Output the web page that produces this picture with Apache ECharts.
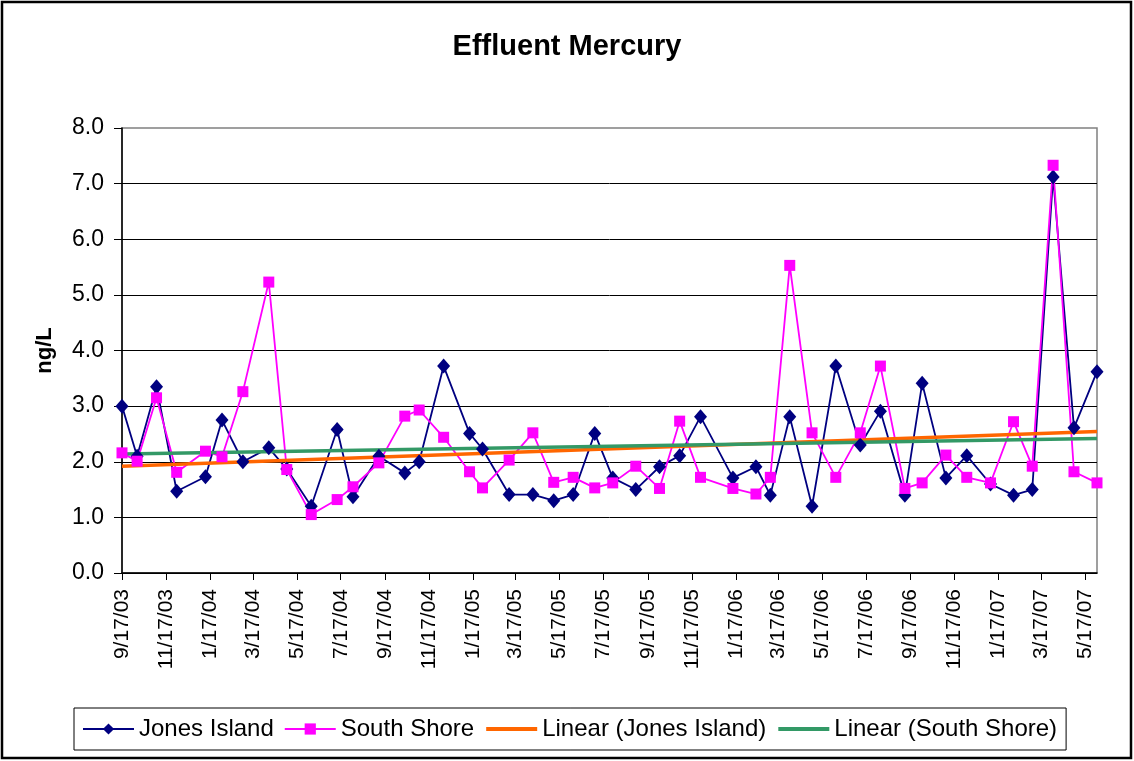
<!DOCTYPE html>
<html>
<head>
<meta charset="utf-8">
<script src="https://cdn.jsdelivr.net/npm/echarts@6/dist/echarts.min.js"></script>
<style>
  html, body { margin: 0; padding: 0; background: #fff; }
  #chart { width: 1134px; height: 761px; }
</style>
</head>
<body>
<div id="chart"></div>
<script>
// sample dates
var sampleDates = [
  '2003-09-17', '2003-10-08', '2003-11-04', '2003-12-02', '2004-01-11', '2004-02-03',
  '2004-03-03', '2004-04-08', '2004-05-03', '2004-06-06', '2004-07-12', '2004-08-03',
  '2004-09-08', '2004-10-14', '2004-11-03', '2004-12-07', '2005-01-12', '2005-01-30',
  '2005-03-08', '2005-04-10', '2005-05-09', '2005-06-05', '2005-07-05', '2005-07-30',
  '2005-08-31', '2005-10-03', '2005-10-31', '2005-11-29', '2006-01-13', '2006-02-14',
  '2006-03-06', '2006-04-02', '2006-05-03', '2006-06-05', '2006-07-09', '2006-08-06',
  '2006-09-09', '2006-10-03', '2006-11-05', '2006-12-04', '2007-01-06', '2007-02-07',
  '2007-03-05', '2007-04-03', '2007-05-02', '2007-06-03'
]

var jonesIsland = [
  3.0, 2.1, 3.35, 1.47, 1.73, 2.75, 2.0, 2.25, 1.87, 1.2, 2.58, 1.37,
  2.1, 1.8, 2.0, 3.72, 2.51, 2.23, 1.41, 1.41, 1.3, 1.41, 2.51, 1.71,
  1.5, 1.91, 2.11, 2.81, 1.71, 1.91, 1.4, 2.81, 1.2, 3.72, 2.3, 2.91,
  1.4, 3.41, 1.71, 2.11, 1.6, 1.4, 1.5, 7.12, 2.61, 3.62
]

var southShore = [
  2.16, 2.01, 3.15, 1.81, 2.19, 2.09, 3.26, 5.23, 1.86, 1.05, 1.32, 1.55,
  1.98, 2.82, 2.93, 2.44, 1.82, 1.53, 2.03, 2.52, 1.63, 1.72, 1.53, 1.62,
  1.92, 1.52, 2.73, 1.72, 1.52, 1.42, 1.72, 5.53, 2.52, 1.72, 2.52, 3.72,
  1.52, 1.62, 2.12, 1.72, 1.62, 2.72, 1.92, 7.33, 1.82, 1.62
]

// date axis tick labels, every 2 months
var tickDates = [
  '2003-09-17', '2003-11-17', '2004-01-17', '2004-03-17', '2004-05-17', '2004-07-17',
  '2004-09-17', '2004-11-17', '2005-01-17', '2005-03-17', '2005-05-17', '2005-07-17',
  '2005-09-17', '2005-11-17', '2006-01-17', '2006-03-17', '2006-05-17', '2006-07-17',
  '2006-09-17', '2006-11-17', '2007-01-17', '2007-03-17', '2007-05-17'
]

var yTicks = [0, 1, 2, 3, 4, 5, 6, 7, 8]

var DAY = 86400000
function toUtc (s) {
  var p = s.split('-')
  return Date.UTC(+p[0], +p[1] - 1, +p[2])
}
var base = toUtc(sampleDates[0])
function dayOf (s) {
  return Math.round((toUtc(s) - base) / DAY)
}
function fmtDay (v) {
  var d = new Date(base + v * DAY)
  var yy = String(d.getUTCFullYear()).slice(2)
  return (d.getUTCMonth() + 1) + '/' + d.getUTCDate() + '/' + yy
}

var xs = sampleDates.map(dayOf)
var tickDays = tickDates.map(dayOf)
var lastDay = xs[xs.length - 1]

function pairs (vals) {
  return vals.map(function (v, i) { return [xs[i], v] })
}

// least squares trend line, like Excel's linear trendline
function trend (vals) {
  var n = vals.length
  var sx = 0, sy = 0, sxx = 0, sxy = 0
  for (var i = 0; i < n; i++) {
    sx += xs[i]; sy += vals[i]
    sxx += xs[i] * xs[i]; sxy += xs[i] * vals[i]
  }
  var b = (n * sxy - sx * sy) / (n * sxx - sx * sx)
  var a = (sy - b * sx) / n
  return [[xs[0], a + b * xs[0]], [lastDay, a + b * lastDay]]
}

var font = "'Liberation Sans', Arial, sans-serif"

var chart = echarts.init(document.getElementById('chart'))

var option = {
  backgroundColor: '#fff',
  animation: false,
  textStyle: { fontFamily: font, color: '#000' },
  graphic: [{
    type: 'rect',
    shape: { x: 2, y: 2, width: 1129, height: 756 },
    style: { fill: 'none', stroke: '#000', lineWidth: 2.5 },
    silent: true
  }],
  title: {
    text: 'Effluent Mercury',
    left: 'center',
    top: 27,
    textStyle: { fontFamily: font, fontSize: 29, fontWeight: 'bold', color: '#000' }
  },
  grid: {
    left: 122,
    right: 37,
    top: 128,
    bottom: 188,
    show: true,
    borderColor: '#808080',
    borderWidth: 1.5,
    backgroundColor: 'transparent'
  },
  legend: {
    left: 74,
    top: 708,
    orient: 'horizontal',
    borderColor: '#000',
    borderWidth: 1,
    padding: [9, 9, 9, 8],
    itemGap: 10,
    itemWidth: 51,
    itemHeight: 14,
    textStyle: { fontFamily: font, fontSize: 24, color: '#000' },
    data: [
      'Jones Island',
      'South Shore',
      { name: 'Linear (Jones Island)', itemStyle: { opacity: 0 }, lineStyle: { width: 4 } },
      { name: 'Linear (South Shore)', itemStyle: { opacity: 0 }, lineStyle: { width: 4 } }
    ]
  },
  xAxis: {
    type: 'value',
    min: 0,
    max: lastDay,
    axisLine: { show: true, lineStyle: { color: '#000', width: 1.5 } },
    axisTick: {
      show: true,
      customValues: tickDays,
      length: 7,
      lineStyle: { color: '#000' }
    },
    axisLabel: {
      customValues: tickDays,
      rotate: 90,
      margin: 16,
      fontSize: 21,
      color: '#000',
      fontFamily: font,
      formatter: function (v) { return fmtDay(v) }
    },
    splitLine: { show: false }
  },
  yAxis: {
    type: 'value',
    min: yTicks[0],
    max: yTicks[yTicks.length - 1],
    interval: 1,
    name: 'ng/L',
    nameLocation: 'middle',
    nameRotate: 90,
    nameGap: 66,
    nameTextStyle: { fontFamily: font, fontSize: 22, fontWeight: 'bold', color: '#000' },
    axisLine: { show: true, lineStyle: { color: '#000', width: 1.5 } },
    axisTick: { show: true, length: 8, lineStyle: { color: '#000' } },
    axisLabel: {
      margin: 18,
      fontSize: 23,
      color: '#000',
      fontFamily: font,
      formatter: function (v) { return v.toFixed(1) }
    },
    splitLine: { show: true, showMaxLine: false, lineStyle: { color: '#000', width: 1 } }
  },
  series: [
    {
      name: 'Jones Island',
      type: 'line',
      data: pairs(jonesIsland),
      symbol: 'diamond',
      symbolSize: [13, 15],
      lineStyle: { color: '#000080', width: 1.8 },
      itemStyle: { color: '#000080' }
    },
    {
      name: 'South Shore',
      type: 'line',
      data: pairs(southShore),
      symbol: 'rect',
      symbolSize: 11,
      lineStyle: { color: '#ff00ff', width: 1.8 },
      itemStyle: { color: '#ff00ff' }
    },
    {
      name: 'Linear (Jones Island)',
      type: 'line',
      data: trend(jonesIsland),
      symbol: 'none',
      lineStyle: { color: '#ff6600', width: 3.5 },
      itemStyle: { color: '#ff6600' }
    },
    {
      name: 'Linear (South Shore)',
      type: 'line',
      data: trend(southShore),
      symbol: 'none',
      lineStyle: { color: '#339966', width: 3.5 },
      itemStyle: { color: '#339966' }
    }
  ]
}

chart.setOption(option)
</script>
</body>
</html>
